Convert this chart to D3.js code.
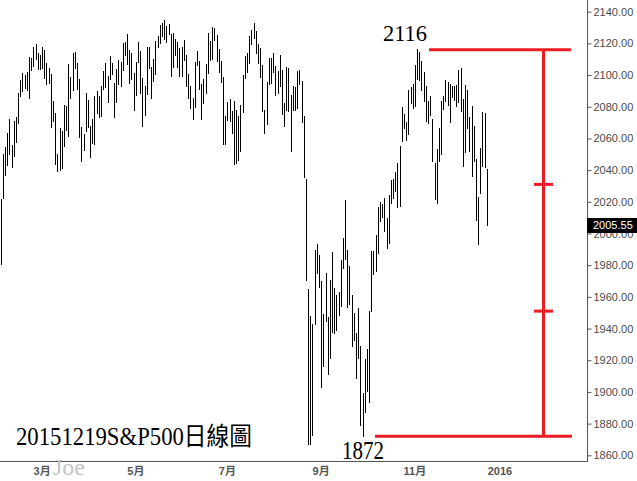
<!DOCTYPE html>
<html>
<head>
<meta charset="utf-8">
<script src="https://cdnjs.cloudflare.com/ajax/libs/d3/7.8.5/d3.min.js"></script>
<style>
    body { margin: 0; background: #fff; }
    svg { display: block; }
</style>
</head>
<body>
<div id="chart"></div>
<script>
// S&P 500 daily bars, 2015-02-02 .. 2015-12-18 (one entry per trading day)
var highs = [
    // Feb
    2021.66, 2050.30, 2054.74, 2063.55, 2072.40, 2056.16, 2070.86, 2073.48, 2088.53, 2097.03,
    2101.30, 2100.23, 2102.13, 2111.30, 2110.61, 2117.94, 2119.59, 2113.86, 2112.74,
    // Mar
    2117.52, 2115.76, 2107.72, 2104.25, 2100.91, 2083.49, 2076.19, 2050.08, 2066.41, 2064.56,
    2081.41, 2080.59, 2106.85, 2098.69, 2113.92, 2114.86, 2107.63, 2097.43, 2067.15, 2062.83,
    2088.97, 2084.05,
    // Apr
    2067.89, 2072.17, 2086.99, 2089.81, 2086.69, 2093.31, 2102.61, 2107.65, 2099.14, 2111.91,
    2107.68, 2094.89, 2103.94, 2109.64, 2108.29, 2120.49, 2120.92, 2125.92, 2116.04, 2113.80,
    2101.30,
    // May
    2108.41, 2120.95, 2115.24, 2098.42, 2092.90, 2117.66, 2117.69, 2105.06, 2110.19, 2121.45,
    2124.89, 2131.78, 2133.02, 2134.72, 2131.10, 2132.15, 2126.22, 2126.33, 2122.91, 2120.66,
    // Jun
    2117.15, 2117.59, 2121.92, 2112.89, 2100.99, 2093.01, 2085.67, 2108.50, 2115.02, 2108.86,
    2094.11, 2097.40, 2106.79, 2126.65, 2121.24, 2130.17, 2129.87, 2125.10, 2116.48, 2108.92,
    2098.63, 2074.28,
    // Jul
    2082.78, 2085.06, 2077.52, 2083.74, 2077.66, 2074.29, 2081.31, 2099.88, 2111.98, 2114.24,
    2124.42, 2128.28, 2132.82, 2128.12, 2119.60, 2116.87, 2106.58, 2078.19, 2095.60, 2110.60,
    2110.48, 2114.24,
    // Aug
    2105.70, 2102.51, 2112.66, 2103.32, 2082.56, 2105.35, 2104.18, 2087.61, 2092.93, 2092.45,
    2102.87, 2103.47, 2096.17, 2073.91, 2034.16, 1965.15, 1948.04, 1943.09, 1989.60, 1993.48,
    1986.73,
    // Sep
    1970.09, 1948.91, 1975.01, 1947.14, 1970.42, 1988.63, 1965.29, 1961.05, 1963.06, 1983.19,
    1997.26, 2020.86, 1989.66, 1979.64, 1961.39, 1949.52, 1937.17, 1952.89, 1929.18, 1899.48,
    1920.53,
    // Oct
    1927.21, 1951.36, 1989.17, 1989.05, 1999.31, 2016.50, 2020.13, 2018.66, 2022.34, 2009.56,
    2024.15, 2033.54, 2034.45, 2039.12, 2044.62, 2055.20, 2079.74, 2075.14, 2070.37, 2090.35,
    2092.52, 2094.32,
    // Nov
    2106.20, 2116.48, 2114.59, 2108.78, 2101.91, 2093.39, 2083.67, 2086.94, 2072.29, 2044.64,
    2053.22, 2066.69, 2083.58, 2086.74, 2097.06, 2095.61, 2094.12, 2093.00, 2093.29, 2093.81,
    // Dec
    2103.37, 2104.27, 2085.00, 2093.84, 2090.41, 2073.85, 2080.33, 2067.65, 2047.27, 2022.92,
    2053.93, 2076.72, 2076.37, 2040.82
];

var lows = [
    // Feb
    1980.90, 2022.71, 2036.72, 2043.45, 2049.97, 2041.88, 2048.62, 2057.99, 2069.98, 2086.70,
    2089.80, 2092.15, 2090.79, 2085.44, 2103.00, 2105.87, 2109.89, 2103.76, 2103.75,
    // Mar
    2104.50, 2098.26, 2094.49, 2095.22, 2067.27, 2071.28, 2044.16, 2039.69, 2040.24, 2041.17,
    2055.30, 2065.08, 2061.23, 2085.56, 2090.32, 2104.42, 2091.50, 2061.05, 2045.50, 2052.96,
    2064.51, 2067.04,
    // Apr
    2048.38, 2057.32, 2056.52, 2076.10, 2073.30, 2074.29, 2091.11, 2092.33, 2083.24, 2097.41,
    2100.39, 2073.30, 2082.93, 2094.38, 2093.06, 2103.19, 2112.86, 2107.04, 2094.89, 2097.41,
    2077.82,
    // May
    2087.59, 2108.29, 2088.46, 2067.93, 2074.99, 2088.00, 2104.58, 2085.57, 2096.04, 2100.43,
    2117.94, 2120.01, 2124.50, 2122.59, 2120.70, 2126.06, 2099.18, 2105.13, 2112.86, 2104.89,
    // Jun
    2099.14, 2099.14, 2109.61, 2093.23, 2085.67, 2079.11, 2072.14, 2080.15, 2106.13, 2091.33,
    2072.49, 2082.10, 2088.86, 2101.44, 2109.76, 2110.08, 2122.02, 2108.58, 2101.78, 2095.38,
    2056.64, 2056.32,
    // Jul
    2071.53, 2071.02, 2063.40, 2044.02, 2044.66, 2046.68, 2052.26, 2076.62, 2098.18, 2102.07,
    2107.40, 2119.88, 2123.66, 2114.24, 2107.64, 2098.63, 2077.09, 2063.52, 2069.09, 2094.08,
    2094.97, 2102.07,
    // Aug
    2087.31, 2088.60, 2093.32, 2075.53, 2067.91, 2078.19, 2077.11, 2052.09, 2078.26, 2078.26,
    2079.30, 2094.14, 2070.53, 2035.73, 1970.89, 1867.01, 1867.08, 1872.75, 1942.70, 1975.19,
    1965.98,
    // Sep
    1903.07, 1916.52, 1944.72, 1911.21, 1921.22, 1937.88, 1937.19, 1939.19, 1948.27, 1954.30,
    1977.93, 1984.02, 1953.45, 1955.80, 1929.22, 1932.57, 1908.92, 1921.50, 1879.21, 1871.91,
    1887.11,
    // Oct
    1900.70, 1893.70, 1951.36, 1974.55, 1976.44, 1987.53, 2007.61, 2010.55, 2001.78, 1990.73,
    1994.24, 2018.98, 2022.31, 2026.61, 2016.79, 2017.22, 2058.19, 2066.53, 2058.84, 2063.11,
    2082.63, 2079.34,
    // Nov
    2080.76, 2097.51, 2096.98, 2090.41, 2083.74, 2071.29, 2069.91, 2074.85, 2045.66, 2022.02,
    2019.39, 2045.90, 2050.37, 2078.76, 2083.81, 2081.39, 2070.29, 2086.30, 2084.13, 2080.41,
    // Dec
    2082.93, 2077.11, 2042.35, 2051.24, 2066.78, 2052.32, 2036.53, 2045.67, 2008.80, 1993.26,
    2025.38, 2042.43, 2041.66, 2005.33
];

var lastClose = 2005.55;

// month labels on the time axis and the bar index they sit on
var monthLabels = ['3月', '5月', '7月', '9月', '11月', '2016'];
var monthIndex = [19, 62, 104, 147, 190, 229];

var yTicks = [1860, 1880, 1900, 1920, 1940, 1960, 1980, 2000, 2020, 2040, 2060, 2080, 2100, 2120, 2140];

// hand drawn marks: swing high / low and the two levels between them
var swingHigh = 2116;
var swingLow = 1872;
var midLevels = [2031, 1951];

var width = 637, height = 481;
var plotRight = 587, plotBottom = 462;

var svg = d3.select('#chart').append('svg')
    .attr('width', width)
    .attr('height', height);

svg.append('rect')
    .attr('width', width)
    .attr('height', height)
    .attr('fill', '#fff');

var x = d3.scaleLinear().domain([0, 269]).range([0.7, 587.1]);
var y = d3.scaleLinear().domain([1860, 2140]).range([455.3, 11.7]);

function px(v) { return Math.round(v) + 0.5; }

// high-low bars
svg.append('g')
    .selectAll('line')
    .data(highs)
    .enter()
    .append('line')
    .attr('x1', function(d, i) { return px(x(i)); })
    .attr('x2', function(d, i) { return px(x(i)); })
    .attr('y1', function(d) { return Math.round(y(d)); })
    .attr('y2', function(d, i) { return Math.round(y(lows[i])) + 1; })
    .attr('stroke', '#000')
    .attr('stroke-width', 1);

// price axis on the right
var yAxis = d3.axisRight(y)
    .tickValues(yTicks)
    .tickSize(4)
    .tickPadding(2)
    .tickFormat(d3.format('.2f'));

var gy = svg.append('g')
    .attr('transform', 'translate(' + (plotRight + 0.5) + ',0)')
    .call(yAxis);

gy.select('.domain').remove();
gy.selectAll('.tick line').attr('stroke', '#555');
gy.selectAll('.tick text')
    .attr('fill', '#4a4a4a')
    .style('font-family', '"Liberation Sans", Arial, sans-serif')
    .style('font-size', '11px');

svg.append('line')
    .attr('x1', plotRight + 0.5).attr('x2', plotRight + 0.5)
    .attr('y1', 0).attr('y2', plotBottom)
    .attr('stroke', '#555');

// time axis
svg.append('line')
    .attr('x1', 0).attr('x2', plotRight + 1)
    .attr('y1', plotBottom - 0.5).attr('y2', plotBottom - 0.5)
    .attr('stroke', '#555');

svg.append('g')
    .selectAll('text')
    .data(monthLabels)
    .enter()
    .append('text')
    .attr('x', function(d, i) { return x(monthIndex[i]); })
    .attr('y', 474.5)
    .attr('text-anchor', 'middle')
    .attr('fill', '#555')
    .style('font-family', '"Liberation Sans", Arial, "Noto Sans CJK TC", sans-serif')
    .style('font-weight', 'bold')
    .style('font-size', '11px')
    .text(function(d) { return d; });

// last price tag
var tagY = y(lastClose);
svg.append('rect')
    .attr('x', plotRight)
    .attr('y', Math.round(tagY) - 7)
    .attr('width', width - plotRight)
    .attr('height', 15)
    .attr('fill', '#000');

svg.append('text')
    .attr('x', plotRight + 6)
    .attr('y', tagY + 4.5)
    .attr('fill', '#fff')
    .style('font-family', '"Liberation Sans", Arial, sans-serif')
    .style('font-size', '11px')
    .text(d3.format('.2f')(lastClose));

// red annotation lines
var red = '#ed1c24';
var mark = svg.append('g')
    .attr('stroke', red)
    .attr('stroke-width', 3);

var barX = 543.5;

mark.append('line')
    .attr('x1', 429).attr('x2', 571)
    .attr('y1', y(swingHigh)).attr('y2', y(swingHigh));

mark.append('line')
    .attr('x1', 375).attr('x2', 572)
    .attr('y1', y(swingLow)).attr('y2', y(swingLow));

mark.append('line')
    .attr('x1', barX).attr('x2', barX)
    .attr('y1', y(swingHigh)).attr('y2', y(swingLow));

mark.selectAll('.mid')
    .data(midLevels)
    .enter()
    .append('line')
    .attr('class', 'mid')
    .attr('x1', 534).attr('x2', 553)
    .attr('y1', function(d) { return y(d); })
    .attr('y2', function(d) { return y(d); });

// hand written labels
var serif = '"Liberation Serif", "Times New Roman", "Noto Sans CJK TC", serif';

svg.append('text')
    .attr('x', 383)
    .attr('y', 40.5)
    .attr('textLength', 44)
    .attr('lengthAdjust', 'spacingAndGlyphs')
    .style('font-family', serif)
    .style('font-size', '24px')
    .attr('fill', '#000')
    .text(d3.format('d')(swingHigh));

svg.append('text')
    .attr('x', 342)
    .attr('y', 459)
    .attr('textLength', 42)
    .attr('lengthAdjust', 'spacingAndGlyphs')
    .style('font-family', serif)
    .style('font-size', '25px')
    .attr('fill', '#000')
    .text(d3.format('d')(swingLow));

// chart title, one run of text
svg.append('text')
    .attr('x', 16)
    .attr('y', 445)
    .attr('textLength', 236)
    .attr('lengthAdjust', 'spacingAndGlyphs')
    .style('font-family', serif)
    .style('font-size', '25px')
    .attr('fill', '#000')
    .text('20151219S&P500日線圖');

// watermark
svg.append('text')
    .attr('x', 53)
    .attr('y', 475)
    .style('font-family', serif)
    .style('font-size', '24px')
    .attr('fill', '#c4c4c4')
    .text('Joe');
</script>
</body>
</html>
